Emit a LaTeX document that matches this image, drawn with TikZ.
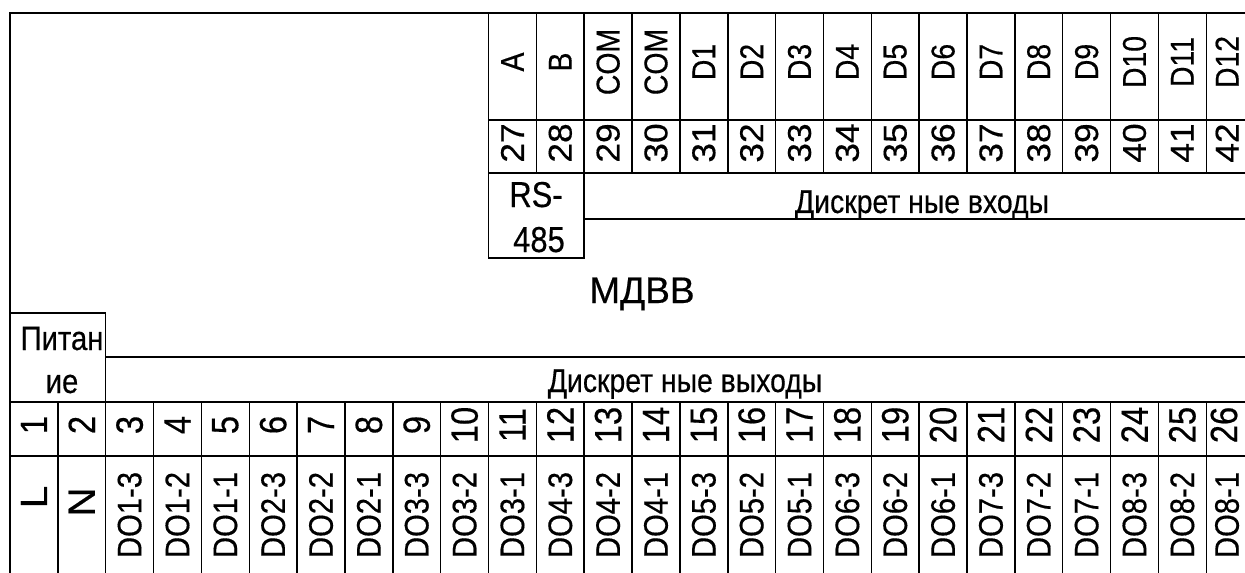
\documentclass[tikz,border=0pt]{standalone}
\usepackage{fontspec}
\newfontfamily\schfont[FakeStretch=0.86,FakeBold=0.4]{Liberation Sans}
\newfontfamily\numfont[FakeStretch=1.07,FakeBold=0.4]{Liberation Sans}
\newfontfamily\titlefont[FakeBold=0.4]{Liberation Sans}
\newcommand{\drawline}{\draw[line width=0.75pt]}
\newcommand{\cw}{47.85}
\newcommand{\fsize}[1]{\fontsize{#1}{#1}\selectfont}

\begin{document}
\begin{tikzpicture}[x=0.5pt,y=-0.5pt,
  vtext/.style={rotate=90,inner sep=0pt,font=\schfont\fsize{16.5}},
  numtext/.style={rotate=90,inner sep=0pt,font=\numfont\fsize{16.5}},
  htext/.style={inner sep=0pt,anchor=base,font=\schfont\fsize{16.5}}]
\useasboundingbox (0,0) rectangle (1245,572);
\clip (0,0) rectangle (1245,572);
% frame
\drawline (10,580)--(10,13)--(1256,13)--(1256,580);
% top terminal block
\foreach \k in {10,...,26}{
  \drawline ({10+\cw*\k},13)--++(0,160);
}
\drawline ({10+\cw*10},120)--(1256,120);
\drawline ({10+\cw*10},173)--(1256,173);
\drawline ({10+\cw*10},173)--++(0,85)--++({2*\cw},0)--++(0,-85);
\drawline ({10+\cw*12},219)--(1256,219);
% bottom terminal block
\drawline (10,313)--({10+\cw*2},313)--({10+\cw*2},402);
\drawline ({10+\cw*2},357)--(1256,357);
\drawline (10,402)--(1256,402);
\drawline (10,456)--(1256,456);
\foreach \i in {1,...,26}{
  \drawline ({10+\cw*\i},402)--++(0,180);
}
% top labels and numbers
\foreach \lab [count=\k from 10] in {A,B,COM,COM,D1,D2,D3,D4,D5,D6,D7,D8,D9,D10,D11,D12}{
  \pgfmathtruncatemacro{\n}{\k+17}
  \pgfmathsetmacro{\xx}{min(10+\cw*(\k+0.5),1227)}
  \node[vtext] (lab\n) at (\xx,62) {\lab};
  \node[numtext] (num\n) at (\xx,143) {\n};
}
% bottom numbers
\foreach \n in {1,...,26}{
  \pgfmathsetmacro{\xx}{min(10+\cw*(\n-0.5),1224)}
  \node[vtext,font=\schfont\fsize{19}] (num\n) at (\xx,425) {\n};
}
% bottom labels
\node[numtext,font=\numfont\fsize{19}] (lab1) at ({10+\cw*0.5},497) {L};
\node[numtext,font=\numfont\fsize{19}] (lab2) at ({10+\cw*1.5},502) {N};
\foreach \g in {1,...,8}{
  \foreach \c in {3,2,1}{
    \pgfmathtruncatemacro{\n}{3*\g+3-\c}
    \pgfmathsetmacro{\xx}{min(10+\cw*(\n-0.5),1227)}
    \node[vtext,font=\schfont\fsize{17}] (lab\n) at (\xx,515) {DO\g-\c};
  }
}
% group titles
\node[htext,font=\schfont\fsize{18}] (rs1) at (536,207) {RS-};
\node[htext,font=\schfont\fsize{18}] (rs2) at (539,252) {485};
\node[htext] (din) at (922,213) {Дискрет ные входы};
\node[htext,font=\schfont\fsize{17}] (pw1) at (62,350) {Питан};
\node[htext,font=\schfont\fsize{17}] (pw2) at (62,393) {ие};
\node[htext] (dout) at (685,392) {Дискрет ные выходы};
\node[htext,font=\titlefont\fsize{18.5}] (mdvv) at (642,303) {МДВВ};
\end{tikzpicture}
\end{document}
